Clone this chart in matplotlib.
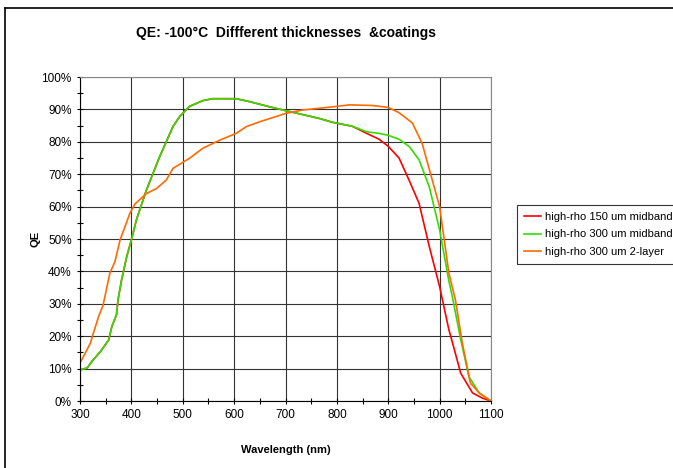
import numpy as np
import matplotlib
matplotlib.use("Agg")
import matplotlib.pyplot as plt
from matplotlib.ticker import MultipleLocator, PercentFormatter
from matplotlib.lines import Line2D

plt.rcParams['font.family'] = ['Liberation Sans', 'DejaVu Sans']

# values (wavelength nm, QE %)
wl_150 = [300, 314, 323, 340, 356, 362, 371, 374, 381, 391, 400, 410, 429, 455,
          481, 494, 513, 539, 558, 604, 630, 669, 701, 766, 792, 830, 858, 882,
          900, 921, 941, 960, 980, 1000, 1018, 1025, 1041, 1064, 1083, 1100]
qe_150 = [9.6, 10.2, 12.2, 15.3, 18.9, 23, 26.6, 31.2, 37.4, 44.6, 49.7, 56, 65, 75.4,
          84.7, 87.8, 90.9, 92.7, 93.3, 93.3, 92.4, 90.8, 89.6, 87.2, 86, 84.8, 82.6, 80.8,
          78.6, 75, 68, 61, 47.6, 35.3, 22, 18, 8.6, 2.5, 0.9, 0]

wl_300 = [300, 314, 323, 340, 356, 362, 371, 374, 381, 391, 400, 410, 429, 455,
          481, 494, 513, 539, 558, 604, 630, 669, 701, 766, 792, 830, 858, 882,
          900, 921, 941, 960, 980, 1000, 1018, 1025, 1041, 1057, 1077, 1100]
qe_300 = [9.6, 10.2, 12.2, 15.3, 18.9, 23, 26.6, 31.2, 37.4, 44.6, 49.7, 56, 65, 75.4,
          84.7, 87.8, 90.9, 92.7, 93.3, 93.3, 92.4, 90.8, 89.6, 87.2, 86, 84.8, 83.1, 82.6,
          82, 80.8, 78.5, 74.4, 66, 52.8, 37, 32, 19, 7.5, 2.5, 0]

wl_2l = [300, 310, 320, 326, 336, 345, 358, 368, 378, 397, 407, 429, 449, 468,
         481, 513, 539, 572, 604, 624, 650, 676, 701, 733, 763, 792, 825, 870,
         900, 921, 947, 966, 986, 1000, 1018, 1031, 1044, 1060, 1077, 1100]
qe_2l = [11.7, 14.7, 17.8, 20.9, 26, 29.6, 39.4, 43, 49.7, 57.9, 60.8, 64, 65.6, 68.2,
         71.8, 74.9, 78, 80.5, 82.6, 84.7, 86.2, 87.5, 88.8, 89.8, 90.3, 90.8, 91.4, 91.2,
         90.6, 89, 85.8, 79.5, 68, 60, 39.5, 31, 18, 5.5, 2.5, 0]

labels = ["high-rho 150 um midband", "high-rho 300 um midband", "high-rho 300 um 2-layer"]
colors = ["#ff0000", "#33dd00", "#ff6a00"]

fig = plt.figure(figsize=(6.73, 4.68), dpi=100)
ax = fig.add_axes([80/673, 67/468, 411/673, 324/468])

ax.plot(wl_150, qe_150, color=colors[0], lw=1.2)
ax.plot(wl_300, qe_300, color=colors[1], lw=1.2)
ax.plot(wl_2l, qe_2l, color=colors[2], lw=1.2)

ax.set_xlim(300, 1100)
ax.set_ylim(0, 100)
ax.xaxis.set_major_locator(MultipleLocator(100))
ax.xaxis.set_minor_locator(MultipleLocator(50))
ax.yaxis.set_major_locator(MultipleLocator(10))
ax.yaxis.set_minor_locator(MultipleLocator(5))
ax.yaxis.set_major_formatter(PercentFormatter(decimals=0))
ax.grid(True, which='major', color='#333333', lw=0.8)
ax.tick_params(which='both', direction='inout', labelsize=8.5, width=0.8)
ax.tick_params(which='major', length=5)
ax.tick_params(which='minor', length=4)
ax.spines['top'].set_color('#888888')
ax.spines['right'].set_color('#888888')

ax.set_xlabel("Wavelength (nm)", fontsize=8, fontweight='bold', labelpad=17)
ax.set_ylabel("QE", fontsize=8, fontweight='bold', labelpad=1)
fig.text(285.5/673, 1 - 33/468, "QE: -100°C  Diffferent thicknesses  &coatings",
         ha='center', va='center', fontsize=10, fontweight='bold')

handles = [Line2D([], [], color=c, lw=1.2) for c in colors]
leg = fig.legend(handles, labels, loc='upper left', bbox_to_anchor=(517/673, 1 - 205/468),
                 fontsize=8, frameon=True, fancybox=False, handlelength=1.6,
                 handletextpad=0.3, borderpad=0.6, labelspacing=0.7, borderaxespad=0)
leg.get_frame().set_edgecolor('black')
leg.get_frame().set_linewidth(0.8)

# outer chart border
fig.add_artist(Line2D([5/673, 5/673], [0, 1 - 8/468], color='black', lw=1.2))
fig.add_artist(Line2D([5/673, 1], [1 - 8/468, 1 - 8/468], color='black', lw=1.2))

fig.savefig("out.png", dpi=100)
